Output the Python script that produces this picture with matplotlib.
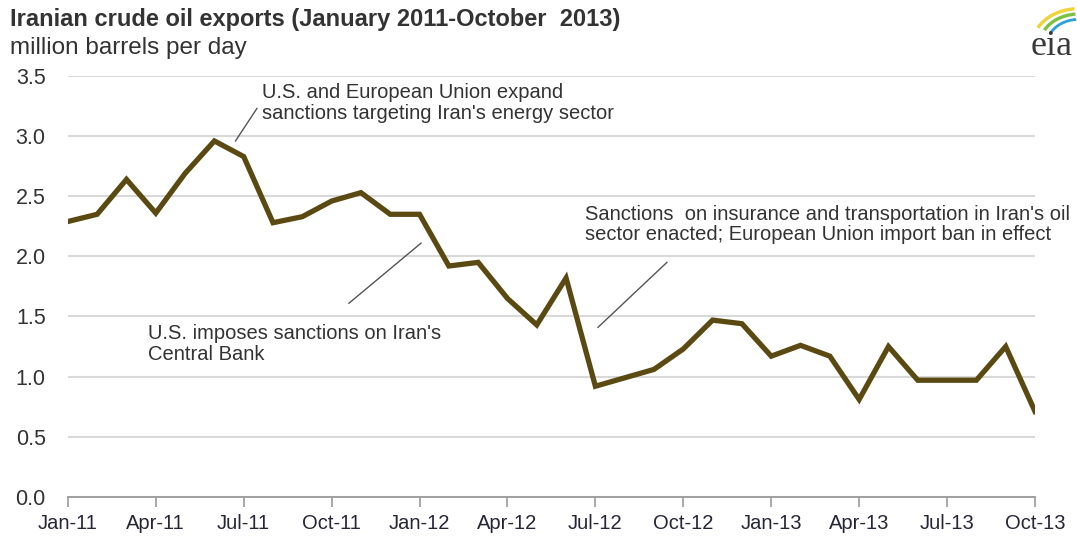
import numpy as np
import matplotlib
matplotlib.use('Agg')
import matplotlib.pyplot as plt
from matplotlib.patches import Arc

# monthly exports, million barrels per day (Jan-11 .. Oct-13)
months = ['Jan-11', 'Feb-11', 'Mar-11', 'Apr-11', 'May-11', 'Jun-11', 'Jul-11', 'Aug-11',
          'Sep-11', 'Oct-11', 'Nov-11', 'Dec-11', 'Jan-12', 'Feb-12', 'Mar-12', 'Apr-12',
          'May-12', 'Jun-12', 'Jul-12', 'Aug-12', 'Sep-12', 'Oct-12', 'Nov-12', 'Dec-12',
          'Jan-13', 'Feb-13', 'Mar-13', 'Apr-13', 'May-13', 'Jun-13', 'Jul-13', 'Aug-13',
          'Sep-13', 'Oct-13']
exports = [2.29, 2.35, 2.64, 2.36, 2.69, 2.96, 2.83, 2.28, 2.33, 2.46, 2.53, 2.35,
           2.35, 1.92, 1.95, 1.65, 1.43, 1.82, 0.92, 0.99, 1.06, 1.23, 1.47, 1.44,
           1.17, 1.26, 1.17, 0.81, 1.25, 0.97, 0.97, 0.97, 1.25, 0.71]
y_ticks = [0.0, 0.5, 1.0, 1.5, 2.0, 2.5, 3.0, 3.5]

plt.rcParams['font.family'] = ['Liberation Sans', 'DejaVu Sans']

fig = plt.figure(figsize=(10.77, 5.43), dpi=100)
fig.patch.set_facecolor('white')
ax = fig.add_axes([0.063, 0.085, 0.898, 0.775])

x = np.arange(len(months))
ax.plot(x, exports, color='#5a4a12', linewidth=3.8, solid_joinstyle='miter', zorder=5)

ax.set_xlim(0, len(months) - 1)
ax.set_ylim(0, 3.5)
ax.set_yticks(y_ticks)
ax.set_yticklabels([f'{v:.1f}' for v in y_ticks])
ax.set_xticks(x[::3])
ax.set_xticklabels(months[::3])

ax.grid(axis='y', color='#d9d9d9', linewidth=1.5)
ax.set_axisbelow(True)
for side in ['top', 'right', 'left']:
    ax.spines[side].set_visible(False)
ax.spines['bottom'].set_color('#9a9a9a')
ax.spines['bottom'].set_linewidth(1.3)
ax.tick_params(axis='y', length=0, pad=16, labelsize=15.5, labelcolor='#333333')
ax.tick_params(axis='x', length=7, width=1.2, color='#9a9a9a', direction='out',
               labelsize=14.5, labelcolor='#262636', pad=5)

# annotations
note_kw = dict(fontsize=14.5, color='#333333', va='top', ha='left', linespacing=1.12)
ax.text(6.62, 3.44, "U.S. and European Union expand\nsanctions targeting Iran's energy sector",
        **note_kw)
ax.plot([5.72, 6.45], [2.96, 3.23], color='#555555', linewidth=1.0)
ax.text(2.73, 1.44, "U.S. imposes sanctions on Iran's\nCentral Bank", **note_kw)
ax.plot([9.59, 12.05], [1.61, 2.11], color='#555555', linewidth=1.0)
ax.text(17.65, 2.43, "Sanctions  on insurance and transportation in Iran's oil\n"
        "sector enacted; European Union import ban in effect", **note_kw)
ax.plot([18.09, 20.44], [1.41, 1.95], color='#555555', linewidth=1.0)

# title
fig.text(0.009, 0.965, 'Iranian crude oil exports (January 2011-October  2013)',
         fontsize=17, fontweight='bold', color='#333333', va='center', ha='left')
fig.text(0.009, 0.912, 'million barrels per day', fontsize=17.5, color='#333333',
         va='center', ha='left')

# eia logo
fig.text(0.996, 0.915, 'eia', fontsize=26, family='Liberation Serif', color='#3a3a3a',
         ha='right', va='center')
lax = fig.add_axes([0.955, 0.938, 0.045, 0.055])
lax.axis('off')
lax.set_xlim(0, 1)
lax.set_ylim(0, 1)
for r, c, lw in [(0.95, '#f2d335', 2.4), (0.8, '#7cc142', 2.4), (0.65, '#2d9fd9', 2.0)]:
    lax.add_patch(Arc((1.05, -0.3), 2 * r, 2 * r * 1.2, theta1=95, theta2=150, color=c, lw=lw))

fig.savefig('out.png', dpi=100, facecolor='white')
